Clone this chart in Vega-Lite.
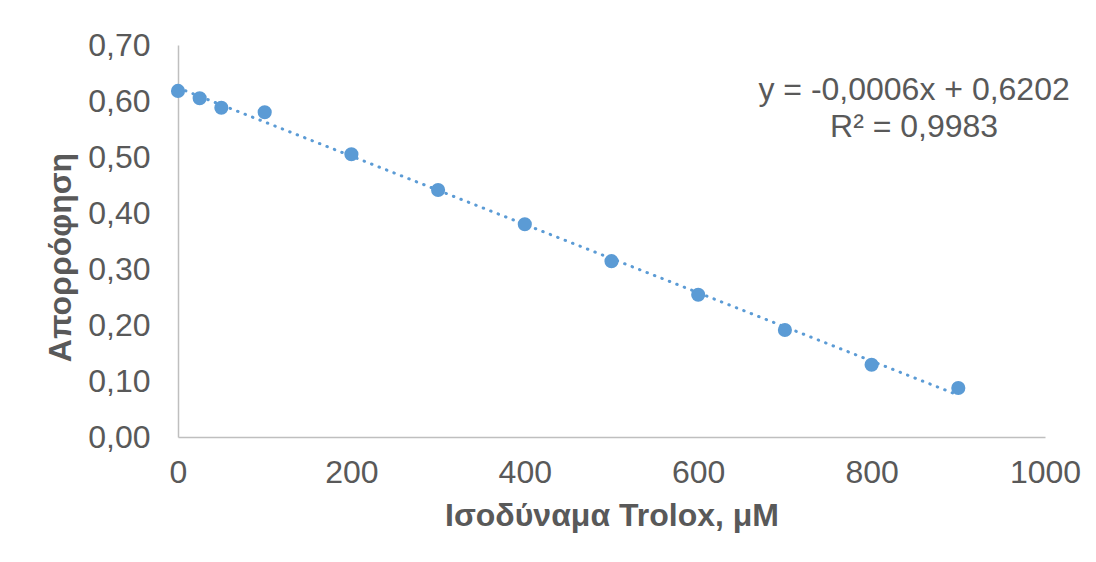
{
  "$schema": "https://vega.github.io/schema/vega-lite/v6.json",
  "width": 867,
  "height": 392,
  "autosize": {"type": "none"},
  "padding": {"left": 178, "top": 45, "right": 51, "bottom": 125},
  "background": "white",
  "config": {
    "view": {"stroke": null},
    "font": "Liberation Sans"
  },
  "datasets": {
    "pts": [
      {"trolox": 0, "abs": 0.618},
      {"trolox": 25, "abs": 0.605},
      {"trolox": 50, "abs": 0.588},
      {"trolox": 100, "abs": 0.580},
      {"trolox": 200, "abs": 0.505},
      {"trolox": 300, "abs": 0.441},
      {"trolox": 400, "abs": 0.380},
      {"trolox": 500, "abs": 0.314},
      {"trolox": 600, "abs": 0.254},
      {"trolox": 700, "abs": 0.191},
      {"trolox": 800, "abs": 0.129},
      {"trolox": 900, "abs": 0.0875}
    ],
    "eq": [
      {"trolox": 849, "abs": 0.62, "label": "y = -0,0006x + 0,6202"},
      {"trolox": 849, "abs": 0.554, "label": "R² = 0,9983"}
    ]
  },
  "layer": [
    {
      "data": {"name": "pts"},
      "transform": [{"regression": "abs", "on": "trolox"}],
      "mark": {"type": "line", "color": "#5B9BD5", "strokeWidth": 3, "strokeCap": "round", "strokeDash": [0.5, 7.5]},
      "encoding": {
        "x": {"field": "trolox", "type": "quantitative"},
        "y": {"field": "abs", "type": "quantitative"}
      }
    },
    {
      "data": {"name": "pts"},
      "mark": {"type": "circle", "color": "#5B9BD5", "opacity": 1, "size": 200},
      "encoding": {
        "x": {
          "field": "trolox", "type": "quantitative",
          "scale": {"domain": [0, 1000], "nice": false},
          "axis": {
            "title": "Ισοδύναμα Trolox, μΜ",
            "values": [0, 200, 400, 600, 800, 1000],
            "format": "d",
            "labelFlush": false,
            "grid": false, "ticks": false,
            "domainColor": "#BFBFBF", "domainWidth": 1.5,
            "labelFontSize": 32, "labelColor": "#595959", "labelPadding": 20,
            "titleFontSize": 32, "titleFontWeight": "bold", "titleColor": "#595959", "titlePadding": 12
          }
        },
        "y": {
          "field": "abs", "type": "quantitative",
          "scale": {"domain": [0, 0.7], "nice": false},
          "axis": {
            "title": "Απορρόφηση",
            "values": [0, 0.1, 0.2, 0.3, 0.4, 0.5, 0.6, 0.7],
            "labelExpr": "replace(format(datum.value, '.2f'), '.', ',')",
            "labelFlush": false,
            "grid": false, "ticks": false,
            "domainColor": "#BFBFBF", "domainWidth": 1.5,
            "labelFontSize": 32, "labelColor": "#595959", "labelPadding": 28,
            "titleFontSize": 32, "titleFontWeight": "bold", "titleColor": "#595959", "titlePadding": 10,
            "titleY": 212
          }
        }
      }
    },
    {
      "data": {"name": "eq"},
      "mark": {"type": "text", "fontSize": 32, "color": "#595959", "align": "center", "baseline": "middle"},
      "encoding": {
        "x": {"field": "trolox", "type": "quantitative"},
        "y": {"field": "abs", "type": "quantitative"},
        "text": {"field": "label"}
      }
    }
  ]
}
